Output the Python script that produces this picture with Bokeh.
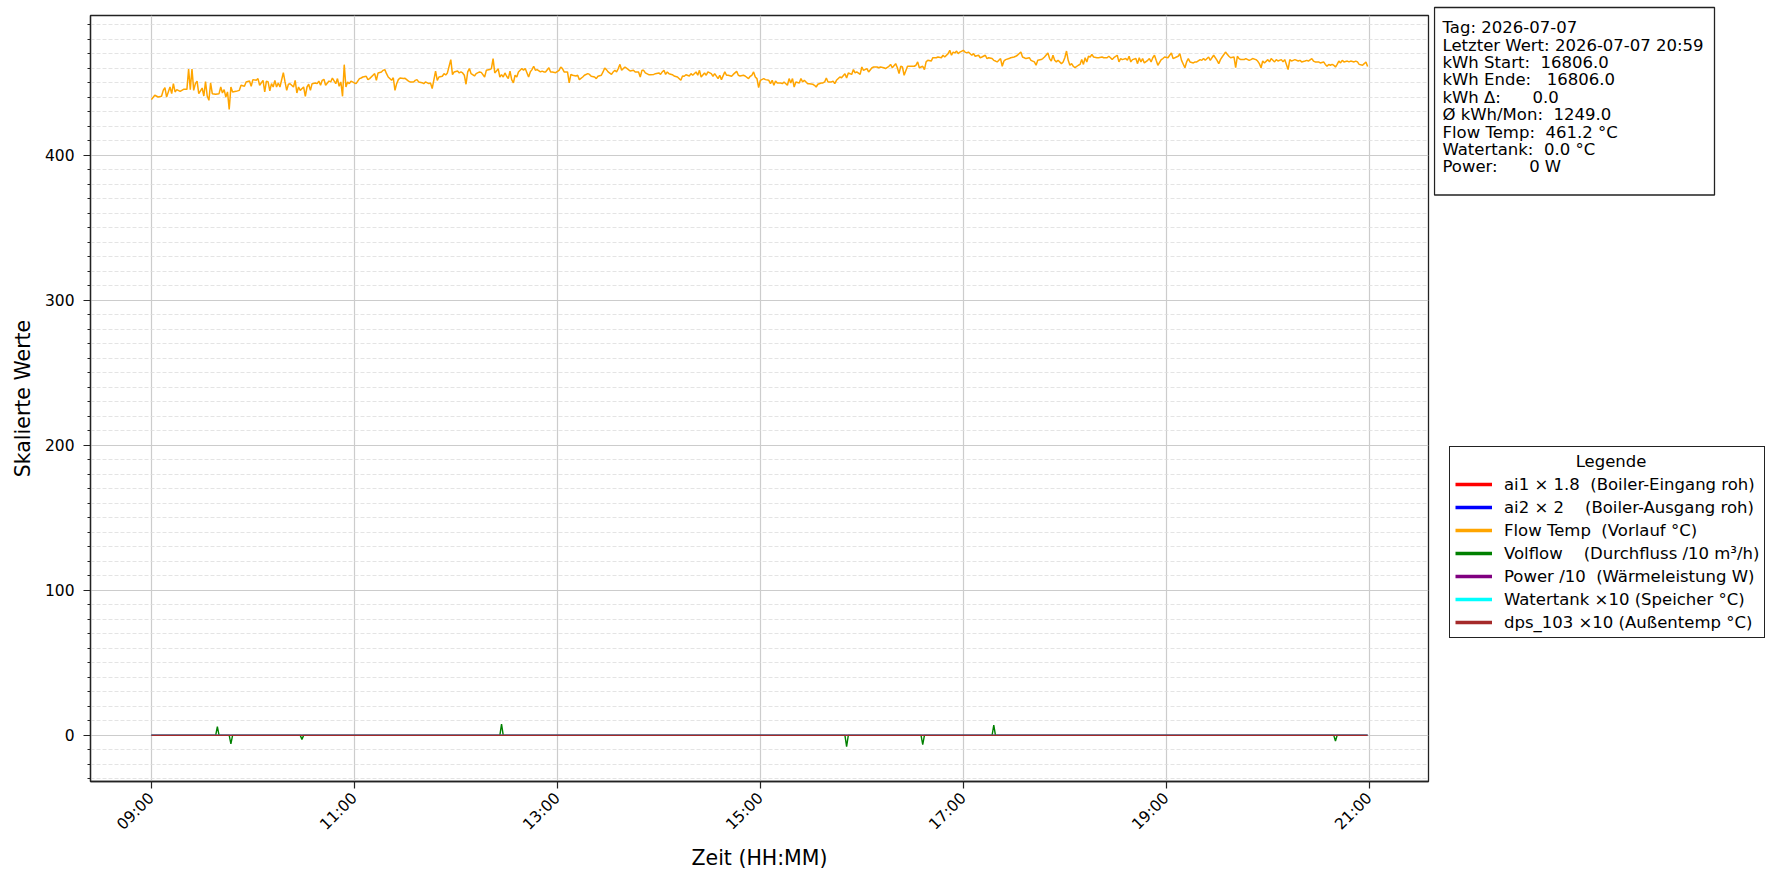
import math
import re
import pandas as pd
from bokeh.plotting import figure
from bokeh.layouts import row, column
from bokeh.models import (Range1d, FixedTicker, SingleIntervalTicker, DatetimeTickFormatter,
                          Legend, LegendItem, Label)
from bokeh.embed import file_html
from bokeh.resources import INLINE

DAY = "2026-07-07"
START = "09:00"

# Flow Temp (Vorlauf), (Minuten seit 09:00, Wert)
flow_temp = [
    (0, 438.3), (2, 441.3), (4, 440.1), (6, 440.6), (7, 444.7), (8, 446.6), (9, 440.1), (11, 447.0), (12, 442.4), (13, 449.3),
    (14, 443.6), (15, 445.2), (17, 444.0), (19, 445.4), (21, 445.4), (22, 459.4), (23, 445.2), (24, 459.4), (25, 444.7), (26, 449.3),
    (27, 451.1), (28, 442.4), (30, 446.3), (31, 440.8), (32, 450.7), (33, 440.8), (34, 437.8), (35, 449.8), (36, 442.4), (38, 442.0),
    (40, 442.4), (41, 447.0), (42, 442.9), (43, 445.2), (44, 440.1), (45, 443.6), (46, 431.6), (47, 447.0), (48, 443.6), (50, 444.0),
    (52, 444.7), (53, 448.2), (55, 447.5), (56, 450.5), (58, 451.1), (59, 447.5), (60, 452.1), (62, 451.6), (63, 452.8), (64, 448.2),
    (66, 451.6), (67, 443.6), (68, 451.1), (69, 450.5), (70, 444.3), (71, 449.3), (72, 447.0), (73, 451.6), (74, 447.0), (75, 449.8),
    (76, 447.0), (78, 456.9), (79, 450.5), (80, 444.7), (81, 448.9), (82, 449.3), (84, 447.0), (85, 451.6), (86, 442.9), (87, 447.0),
    (88, 444.7), (90, 447.0), (91, 440.6), (92, 447.0), (93, 448.9), (94, 444.7), (95, 449.3), (97, 449.8), (98, 449.3), (99, 451.1),
    (100, 448.2), (101, 451.6), (102, 452.3), (103, 448.2), (105, 451.1), (106, 450.5), (107, 453.2), (109, 449.3), (110, 452.8), (111, 447.5),
    (112, 450.5), (113, 440.6), (114, 462.4), (115, 447.0), (116, 450.5), (117, 449.3), (118, 451.1), (120, 449.8), (121, 449.3), (123, 452.8),
    (124, 453.2), (125, 453.9), (127, 454.4), (128, 452.1), (129, 452.8), (131, 455.1), (132, 456.2), (133, 451.6), (134, 456.7), (136, 457.4),
    (137, 458.5), (138, 459.0), (139, 456.2), (140, 453.9), (142, 451.6), (143, 453.4), (144, 444.7), (145, 449.3), (146, 452.1), (147, 453.2),
    (149, 452.8), (150, 453.0), (152, 451.1), (153, 450.5), (155, 450.5), (156, 451.6), (157, 452.1), (158, 450.5), (160, 450.0), (161, 449.3),
    (162, 450.5), (164, 449.3), (165, 449.8), (166, 445.9), (168, 458.0), (169, 451.6), (170, 453.9), (172, 454.4), (173, 456.2), (174, 455.3),
    (175, 456.7), (177, 465.9), (178, 455.5), (179, 457.4), (181, 458.0), (182, 456.7), (183, 457.4),
    (184, 456.7), (185, 455.1), (186, 448.9), (187, 457.4), (188, 459.7), (189, 456.2), (191, 454.6), (192, 456.2), (194, 457.4), (195, 457.1),
    (197, 453.9), (198, 458.5), (200, 459.0), (201, 459.7), (202, 466.6), (203, 456.7), (204, 458.0), (205, 459.7), (206, 453.9), (207, 455.5),
    (208, 453.9), (209, 456.7), (210, 454.4), (211, 452.8), (212, 458.0), (213, 452.1), (214, 449.8), (215, 455.1), (216, 453.9), (217, 457.4),
    (219, 459.7), (220, 458.5), (221, 459.7), (223, 453.9), (224, 457.4), (225, 459.0), (226, 461.3), (227, 458.5), (228, 459.0), (230, 457.4),
    (231, 458.0), (232, 457.4), (233, 457.4), (235, 460.3), (236, 457.4), (237, 457.4), (239, 456.9), (241, 458.5), (242, 460.8), (243, 459.7),
    (244, 457.4), (246, 457.4), (247, 449.8), (248, 455.7), (249, 455.1), (251, 454.6), (252, 455.1), (253, 452.1), (255, 453.9), (256, 455.1),
    (258, 456.2), (259, 455.7), (260, 454.4), (262, 453.9), (263, 452.8), (264, 454.4), (266, 455.1), (267, 457.4), (268, 460.1), (269, 459.0),
    (270, 457.4), (272, 455.7), (273, 457.4), (274, 458.5), (275, 457.4), (276, 459.7), (277, 462.6), (278, 458.5), (279, 459.7), (280, 460.8),
    (282, 459.0), (283, 458.0), (285, 458.5), (286, 457.4), (288, 457.4), (289, 453.9), (290, 458.5), (291, 458.5), (292, 456.7), (294, 455.5),
    (295, 455.5), (297, 455.7), (298, 456.2), (300, 456.7), (301, 455.7), (302, 457.4), (303, 458.5), (304, 455.7), (305, 457.4), (306, 456.2),
    (308, 455.5), (309, 454.6), (311, 453.9), (313, 451.6), (314, 454.6), (315, 454.4), (316, 455.5), (318, 454.6), (319, 456.2), (320, 455.1),
    (322, 457.4), (323, 455.1), (324, 458.5), (325, 453.9), (327, 456.7), (328, 455.1), (329, 457.4), (331, 456.2), (332, 454.4), (333, 456.2),
    (335, 452.8), (336, 455.1), (337, 452.1), (339, 457.4), (340, 455.1), (341, 455.1), (343, 454.4), (344, 455.7), (346, 457.8), (347, 455.1),
    (348, 454.6), (350, 455.1), (351, 454.6), (353, 452.8), (354, 454.4), (355, 455.1), (356, 457.4), (357, 453.9), (358, 452.8), (359, 446.6),
    (360, 451.6), (362, 452.8), (363, 452.1), (365, 451.6), (366, 449.3),
    (367, 451.6), (368, 448.2), (369, 451.1), (370, 449.8), (372, 449.8), (373, 449.3), (374, 450.5), (376, 448.2), (377, 452.8), (378, 449.8),
    (379, 452.8), (380, 447.0), (381, 450.5), (383, 449.8), (384, 452.8), (385, 450.5), (386, 451.6), (388, 449.3), (389, 449.3), (391, 448.9),
    (392, 448.2), (393, 447.0), (394, 448.9), (396, 449.8), (397, 449.8), (398, 450.5), (399, 453.2), (400, 450.5), (402, 450.5), (403, 451.1),
    (404, 449.3), (405, 451.6), (407, 453.9), (408, 453.4), (410, 456.2), (411, 453.2), (412, 456.7), (414, 455.7), (415, 459.0), (416, 456.7),
    (417, 457.4), (419, 455.7), (420, 460.8), (421, 458.5), (423, 459.7), (424, 457.4), (426, 460.3), (427, 460.8), (429, 460.8), (430, 460.3),
    (431, 460.8), (433, 460.3), (434, 459.7), (436, 461.3), (437, 462.6), (438, 460.3), (440, 463.1), (441, 460.3), (442, 456.2), (443, 461.3),
    (444, 460.8), (445, 455.1), (447, 461.3), (448, 461.3), (450, 461.3), (451, 461.3), (452, 462.0), (453, 464.3), (454, 460.3), (456, 461.3),
    (457, 459.0), (458, 464.3), (459, 465.4), (461, 464.9), (462, 467.2), (464, 467.2), (465, 467.7), (467, 467.2), (468, 468.9), (469, 467.7),
    (471, 470.0), (472, 472.3), (473, 468.9), (474, 471.1), (475, 470.5), (476, 471.8), (477, 470.0), (478, 471.1), (480, 472.3), (481, 471.1),
    (482, 470.5), (483, 471.1), (485, 468.9), (486, 470.0), (487, 468.2), (489, 468.9), (490, 467.2), (491, 467.7), (493, 468.9), (494, 466.6),
    (495, 467.2), (497, 466.6), (498, 465.4), (499, 464.9), (500, 464.3), (502, 466.6), (503, 461.3), (504, 464.9), (505, 465.9), (507, 466.6),
    (508, 467.2), (510, 467.7), (511, 468.2), (512, 468.9), (514, 471.1), (515, 467.7), (516, 467.2), (517, 466.6), (519, 467.2), (520, 465.4),
    (522, 464.3), (523, 462.0), (524, 465.4), (526, 465.9), (527, 466.6), (528, 467.7), (530, 470.5), (531, 466.6), (532, 464.9), (533, 468.9),
    (534, 465.4), (535, 464.3), (536, 465.4), (538, 463.1), (539, 464.3), (540, 467.2), (541, 471.8), (542, 465.4), (543, 462.0), (544, 463.1),
    (545, 461.3),
    (546, 460.3), (548, 462.0), (549, 462.6), (550, 465.9), (551, 462.6), (552, 467.2), (553, 464.3), (554, 468.2), (555, 467.7), (556, 469.5),
    (557, 467.7), (559, 467.2), (560, 467.2), (562, 467.7), (563, 467.2), (565, 467.2), (566, 468.2), (567, 467.2), (568, 465.9), (569, 467.2),
    (571, 468.9), (572, 464.3), (573, 466.6), (574, 465.9), (576, 466.6), (577, 465.4), (578, 468.2), (579, 464.3), (580, 465.9), (582, 466.6),
    (583, 463.1), (584, 467.2), (585, 464.3), (586, 466.6), (587, 463.6), (589, 465.4), (590, 466.6), (591, 464.3), (592, 467.2), (593, 468.9),
    (594, 465.4), (595, 462.0), (597, 465.9), (598, 466.6), (599, 467.7), (601, 467.2), (602, 468.9), (603, 470.5), (604, 466.6), (606, 467.7),
    (607, 468.2), (608, 470.0), (609, 465.4), (611, 460.3), (612, 464.3), (613, 466.6), (614, 464.3), (616, 463.6), (617, 464.3), (618, 464.3),
    (620, 465.9), (621, 465.4), (622, 466.6), (623, 465.4), (625, 467.7), (626, 465.4), (627, 467.2), (628, 468.9), (630, 465.4), (631, 463.1),
    (632, 465.9), (633, 467.7), (635, 471.1), (636, 469.5), (637, 468.2), (638, 467.2), (640, 467.7), (641, 460.3), (642, 468.2), (643, 466.6),
    (644, 465.9), (646, 465.9), (647, 466.6), (649, 465.4), (650, 465.9), (651, 466.6), (653, 465.9), (654, 464.9), (655, 463.1), (656, 460.3),
    (657, 464.9), (658, 463.6), (660, 465.9), (661, 464.3), (662, 466.6), (664, 464.3), (665, 465.9), (666, 464.9), (668, 465.9), (669, 464.3),
    (670, 465.9), (672, 459.0), (673, 465.9), (674, 464.9), (675, 465.4), (676, 465.9), (678, 464.9), (679, 465.4), (680, 464.3), (682, 464.9),
    (683, 465.4), (684, 464.9), (686, 466.6), (687, 464.9), (688, 464.3), (690, 464.3), (691, 463.6), (693, 464.3), (694, 462.6), (695, 461.3),
    (696, 462.6), (697, 462.0), (698, 462.6), (699, 462.0), (700, 460.8), (701, 462.6), (702, 464.9), (703, 463.6), (704, 465.4), (705, 464.3),
    (707, 464.9), (708, 464.3), (709, 464.9), (711, 464.3), (712, 464.9), (713, 464.3), (714, 462.6), (716, 462.0), (717, 463.1), (718, 464.3),
    (719, 461.2),
]

# Volflow (/10 m3/h): sonst 0, nur einzelne Ausreisser
vol_spike_min = [39, 47, 89, 207, 411, 456, 498, 700]
vol_spike_val = [6.0, -5.8, -2.8, 7.8, -7.8, -6.3, 7.0, -3.9]

# Reihen, die den ganzen Tag 0 sind
flat_min = [0, 719]
ai1_vals = [0.0, 0.0]
ai2_vals = [0.0, 0.0]
power_vals = [0.0, 0.0]
watertank_vals = [0.0, 0.0]
dps103_vals = [0.0, 0.0]

legend_title = "Legende"
legend_labels = [
    "ai1 × 1.8  (Boiler-Eingang roh)",
    "ai2 × 2    (Boiler-Ausgang roh)",
    "Flow Temp  (Vorlauf °C)",
    "Volflow    (Durchfluss /10 m³/h)",
    "Power /10  (Wärmeleistung W)",
    "Watertank ×10 (Speicher °C)",
    "dps_103 ×10 (Außentemp °C)",
]
line_colors = ["red", "blue", "orange", "green", "purple", "cyan", "brown"]

info_lines = [
    "Tag: 2026-07-07",
    "Letzter Wert: 2026-07-07 20:59",
    "kWh Start:  16806.0",
    "kWh Ende:   16806.0",
    "kWh Δ:      0.0",
    "Ø kWh/Mon:  1249.0",
    "Flow Temp:  461.2 °C",
    "Watertank:  0.0 °C",
    "Power:      0 W",
]

FONT = "DejaVu Sans"
NBSP = "\u00a0"
base = pd.Timestamp(f"{DAY} {START}")


def to_time(mins):
    return [base + pd.Timedelta(minutes=int(m)) for m in mins]


def keep_spaces(s):
    # SVG fasst Leerzeichen zusammen -> Mehrfach-Leerzeichen als NBSP
    return re.sub(r" {2,}", lambda m: NBSP * len(m.group(0)), s)


flow_t = [m for m, v in flow_temp]
flow_v = [v for m, v in flow_temp]

vol_pts = {flat_min[0]: 0.0, flat_min[-1]: 0.0}
for m, v in zip(vol_spike_min, vol_spike_val):
    vol_pts.setdefault(m - 1, 0.0)
    vol_pts.setdefault(m + 1, 0.0)
    vol_pts[m] = v
vol_t = sorted(vol_pts)
vol_v = [vol_pts[m] for m in vol_t]

H = 882
MAIN_W = 90 + 1338 + 5

p = figure(frame_width=1338, frame_height=766, x_axis_type="datetime",
           x_range=Range1d(base - pd.Timedelta(minutes=36), base + pd.Timedelta(minutes=755)),
           y_range=Range1d(-31.8, 496.3),
           x_axis_label="Zeit (HH:MM)", y_axis_label="Skalierte Werte",
           min_border_left=90, min_border_right=5, min_border_top=15, min_border_bottom=H - 15 - 766,
           output_backend="svg", toolbar_location=None)

# Achsen / Ticks
xt = FixedTicker(ticks=[(base + pd.Timedelta(hours=h)).value / 1e6 for h in range(0, 13, 2)])
p.xaxis.ticker = xt
p.xgrid.ticker = xt
p.xaxis.formatter = DatetimeTickFormatter(hours="%H:%M", hourmin="%H:%M", minutes="%H:%M", days="%H:%M")
p.xaxis.major_label_orientation = math.pi / 4
yt = SingleIntervalTicker(interval=100, num_minor_ticks=10)
p.yaxis.ticker = yt
p.ygrid.ticker = yt

for ax in (p.xaxis[0], p.yaxis[0]):
    ax.axis_line_color = "#222222"
    ax.axis_line_width = 1.3
    ax.major_tick_line_color = "#222222"
    ax.major_tick_line_width = 1.2
    ax.major_tick_out = 7
    ax.major_tick_in = 0
    ax.minor_tick_line_color = "#222222"
    ax.minor_tick_out = 3
    ax.minor_tick_in = 0
    ax.major_label_text_font = FONT
    ax.major_label_text_font_size = "15.5px"
    ax.major_label_text_color = "black"
    ax.axis_label_text_font = FONT
    ax.axis_label_text_font_size = "20.5px"
    ax.axis_label_text_font_style = "normal"
    ax.axis_label_text_color = "black"
p.yaxis.major_label_standoff = 9
p.yaxis.axis_label_standoff = 7
p.xaxis.major_label_standoff = 7
p.xaxis.axis_label_standoff = 3
p.xaxis.minor_tick_line_color = None

p.outline_line_color = "#222222"
p.outline_line_width = 1.3

p.xgrid.grid_line_color = "#cccccc"
p.xgrid.grid_line_width = 1.2
p.ygrid.grid_line_color = "#cccccc"
p.ygrid.grid_line_width = 1.2
p.ygrid.minor_grid_line_color = "#dddddd"
p.ygrid.minor_grid_line_width = 0.8
p.ygrid.minor_grid_line_dash = "4 2"

# Linien
p.line(to_time(flat_min), ai1_vals, line_color=line_colors[0], line_width=1.4)
p.line(to_time(flat_min), ai2_vals, line_color=line_colors[1], line_width=1.4)
p.line(to_time(flow_t), flow_v, line_color=line_colors[2], line_width=1.5)
p.line(to_time(vol_t), vol_v, line_color=line_colors[3], line_width=1.4)
p.line(to_time(flat_min), power_vals, line_color=line_colors[4], line_width=1.4)
p.line(to_time(flat_min), watertank_vals, line_color=line_colors[5], line_width=1.4)
p.line(to_time(flat_min), dps103_vals, line_color=line_colors[6], line_width=1.4)

# rechter Bereich: Infobox + Legende (Koordinaten = Pixel dieses Bereichs, y von unten)
SW = 1782 - MAIN_W - 2
side = figure(width=SW, height=H, x_range=Range1d(0, SW), y_range=Range1d(0, H),
              x_axis_location=None, y_axis_location=None, min_border=0,
              output_backend="svg", toolbar_location=None)
side.outline_line_color = None
side.grid.visible = False

items = []
for lab, col in zip(legend_labels, line_colors):
    r = side.line(x=[-30, -20], y=[-30, -20], line_color=col, line_width=3.5)
    items.append(LegendItem(label=lab, renderers=[r]))
# Titel ueber NBSP-Einrueckung zentriert
legend = Legend(items=items, location=(16, H - 638), title=NBSP * 23 + legend_title,
                title_text_font=FONT, title_text_font_size="16.5px", title_text_color="black",
                title_text_font_style="normal",
                label_text_font=FONT, label_text_font_size="16.5px", label_text_color="black",
                glyph_width=37, glyph_height=20, label_height=20, spacing=3,
                label_standoff=12, padding=5, margin=0, title_standoff=3,
                border_line_color="#222222", border_line_width=1.3, border_line_alpha=1.0,
                background_fill_color="white", background_fill_alpha=1.0)
side.add_layout(legend, "center")

# Infobox
side.quad(left=1, right=281, top=H - 7, bottom=H - 194.5, fill_color="white",
          line_color="#222222", line_width=1.3)
for i, line in enumerate(info_lines):
    side.add_layout(Label(x=9, y=H - 27.3 - 17.37 * i, text=keep_spaces(line), text_align="left",
                          text_baseline="alphabetic", text_color="black",
                          text_font=FONT, text_font_size="16.5px"), "center")

open("out.html", "w").write(file_html(row(p, column(side)), INLINE))
